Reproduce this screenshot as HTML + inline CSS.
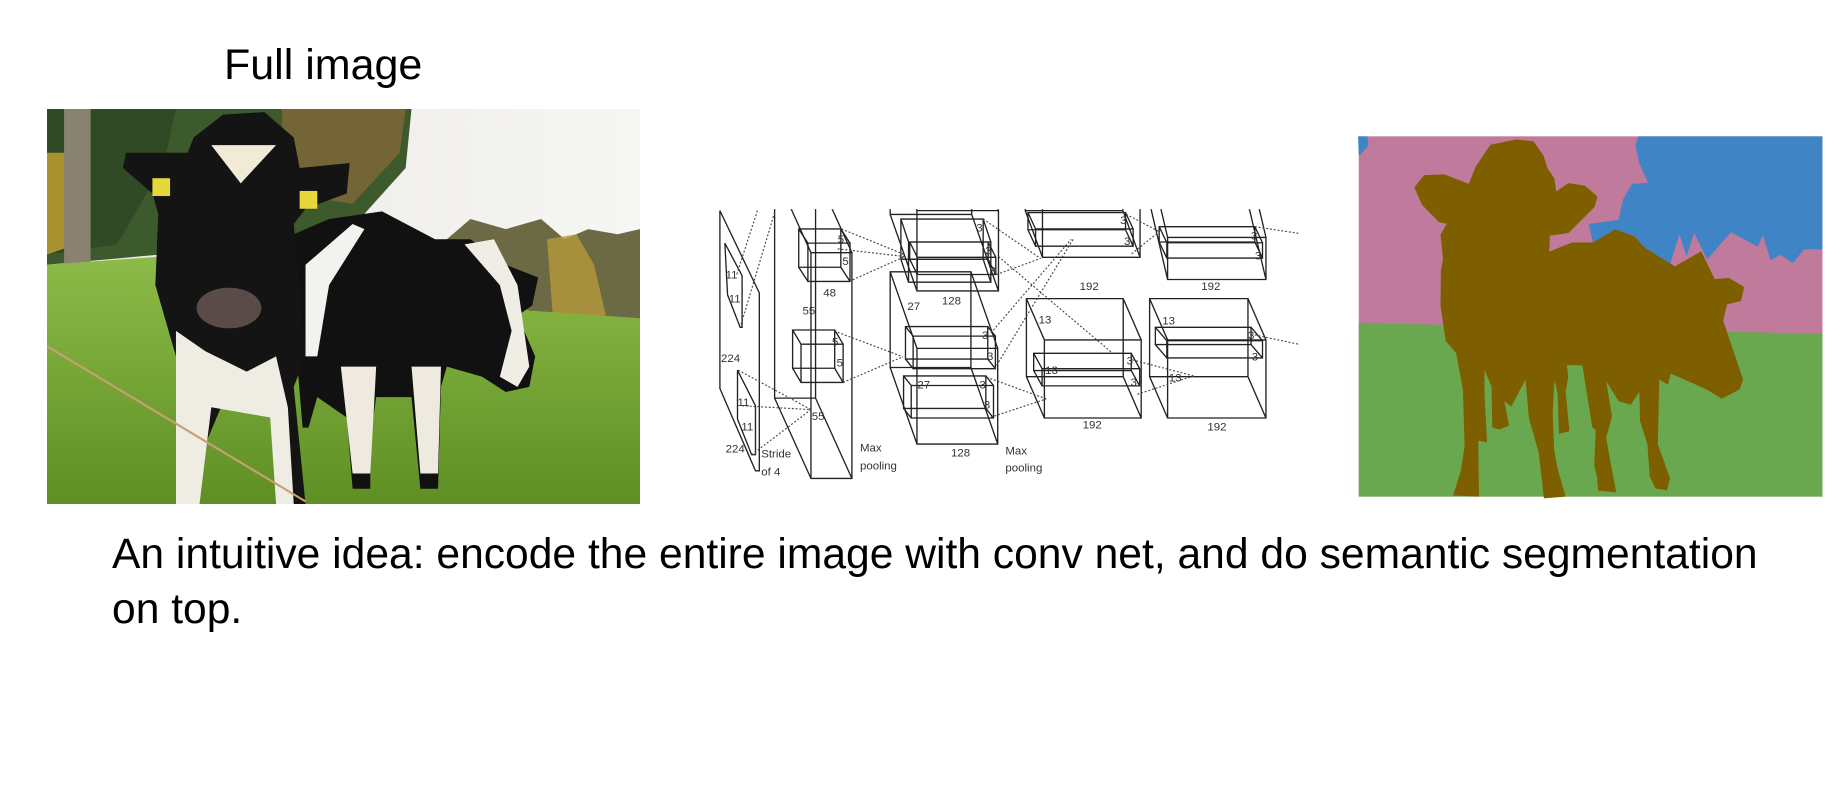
<!DOCTYPE html>
<html><head><meta charset="utf-8">
<style>
html,body{margin:0;padding:0;background:#fff;}
body{width:1848px;height:799px;position:relative;overflow:hidden;font-family:"Liberation Sans",Arial,sans-serif;}
.t{position:absolute;color:#000;white-space:nowrap;}
svg{position:absolute;}
</style></head>
<body>
<div class="t" style="left:224px;top:40px;font-size:43px;line-height:50px;">Full image</div>

<svg style="left:47px;top:109px" width="593" height="395" viewBox="81 214 1007 776" preserveAspectRatio="none">
  <defs>
    <linearGradient id="grass" x1="0" y1="0" x2="0" y2="1"><stop offset="0" stop-color="#8fbd4a"/><stop offset="1" stop-color="#5e8f24"/></linearGradient>
    <linearGradient id="sky" x1="0" y1="0" x2="1" y2="0"><stop offset="0" stop-color="#e8e6e0"/><stop offset="1" stop-color="#f6f6f4"/></linearGradient>
  </defs>
  <rect x="81" y="214" width="1007" height="776" fill="url(#sky)"/>
  <path d="M81 214 H700 L690 330 L620 420 L560 470 L81 520 Z" fill="#3c5a2c"/>
  <path d="M81 214 H300 L280 320 L200 480 L81 500 Z" fill="#2f4a24"/>
  <path d="M480 214 H690 L680 300 L600 400 L480 380 Z" fill="#8a6a3a" opacity="0.7"/>
  <path d="M81 300 L110 300 L130 480 L81 500 Z" fill="#c9a431" opacity="0.8"/>
  <rect x="110" y="214" width="45" height="320" fill="#8a8270"/>
  <path d="M760 470 L800 430 L860 450 L920 430 L960 470 L1000 450 L1050 460 L1088 450 L1088 630 L760 620 Z" fill="#6b6a45"/>
  <path d="M930 470 L980 460 L1010 520 L1030 620 L940 620 Z" fill="#b79a3a" opacity="0.8"/>
  <path d="M81 520 L560 480 L900 610 L1088 625 V990 H81 Z" fill="url(#grass)"/>
  <path d="M500 460 L560 430 L650 415 L740 470 L800 470 L860 520 L915 545 L905 600 L880 620 L910 700 L900 760 L860 770 L820 740 L760 720 L750 760 L745 960 L715 960 L700 780 L640 780 L630 860 L630 960 L600 960 L590 820 L540 780 L525 840 L515 840 L505 700 Z" fill="#111"/>
  <path d="M520 520 L600 440 L620 450 L560 560 L540 700 L520 700 Z" fill="#f2f2ee"/>
  <path d="M790 480 L840 470 L880 560 L900 720 L880 760 L850 740 L870 650 L850 560 Z" fill="#f0ede4"/>
  <path d="M700 720 L750 720 L745 930 L715 930 Z" fill="#eeeadf"/>
  <path d="M580 720 L640 720 L630 930 L600 930 Z" fill="#eeeadf"/>
  <path d="M330 270 L380 225 L450 220 L500 270 L510 330 L595 320 L590 380 L520 410 L500 440 L520 700 L500 760 L520 990 L480 990 L470 790 L380 790 L340 900 L335 990 L300 990 L300 700 L265 560 L270 420 L260 380 L210 330 L215 300 L320 300 Z" fill="#141414"/>
  <path d="M360 285 L470 285 L410 360 Z" fill="#f1ead6"/>
  <path d="M300 650 L350 690 L420 730 L470 700 L490 800 L500 990 L470 990 L460 820 L360 800 L340 990 L300 990 Z" fill="#efece4"/>
  <ellipse cx="390" cy="605" rx="55" ry="40" fill="#5a4a48"/>
  <rect x="260" y="350" width="30" height="35" fill="#e7d83a"/>
  <rect x="510" y="375" width="30" height="35" fill="#e7d83a"/>
  <line x1="81" y1="680" x2="520" y2="985" stroke="#c8a070" stroke-width="4"/>
</svg>

<svg style="left:700px;top:180px" width="600" height="300" viewBox="0 0 1568 784" font-family="Liberation Sans, DejaVu Sans, sans-serif" font-size="30" fill="#333">
  <defs><clipPath id="dc"><rect x="0" y="76" width="1568" height="708"/></clipPath></defs>
  <g clip-path="url(#dc)" fill="none" stroke="#222" stroke-width="3.5" id="prisms"></g>
  <g fill="none" stroke="#444" stroke-width="3" stroke-dasharray="5,5" id="dashes"></g>
  <g id="labels"></g>
</svg>

<svg style="left:1300px;top:100px" width="548" height="420" viewBox="0 0 1568 1202">
  <rect x="168" y="104" width="1327" height="1031" fill="#c07a9b"/>
  <polygon points="168,638 1495,670 1495,1135 168,1135" fill="#69a84f"/>
  <polygon fill="#3f85c5" points="968,104 1495,104 1495,427 1443,427 1410,467 1376,443 1346,458 1325,387 1310,420 1233,378 1165,457 1128,380 1106,447 1086,385 1065,450 1060,470 988,424 957,390 902,370 838,408 826,355 912,343 925,283 950,240 996,237 970,180 960,130"/>
  <polygon fill="#3f85c5" points="166,104 193,104 196,130 172,157 168,157"/>
  <polygon fill="#7e5f00" points="545,128 618,113 668,118 697,160 708,195 728,225 733,262 768,238 815,245 851,276 843,306 768,381 715,388 713,434 778,408 838,408 902,370 957,390 988,424 1073,476 1148,433 1187,513 1227,509 1271,535 1262,575 1222,585 1211,632 1268,800 1258,828 1207,855 1163,828 1061,783 1053,815 1028,800 1024,985 1059,1083 1050,1117 1017,1112 1001,1078 994,985 973,918 971,835 946,872 912,862 876,805 893,905 876,967 891,1050 905,1123 853,1118 850,1080 842,1045 846,945 836,935 828,885 808,760 763,758 768,790 760,835 771,948 741,955 737,840 728,800 723,895 727,1000 737,1055 760,1135 698,1140 683,1010 655,910 645,800 605,877 585,863 598,932 570,943 550,937 548,820 528,773 528,845 533,940 535,980 510,975 512,1135 438,1132 460,1062 471,990 466,830 447,725 417,690 402,590 403,490 409,455 402,385 420,354 398,350 349,300 327,250 355,215 413,213 483,240 503,190"/>
</svg>

<div class="t" style="left:112px;top:527px;font-size:42.6px;line-height:55px;">An intuitive idea: encode the entire image with conv net, and do semantic segmentation<br>on top.</div>

<script>
const NS='http://www.w3.org/2000/svg';
const prisms=[
 [195,-20,107,590,95,210],
 [258,128,110,100,24,37],
 [242,392,110,100,22,37],
 [497,-120,213,210,70,200],
 [497,240,211,250,70,200],
 [525,102,215,105,20,60],
 [548,162,205,45,20,40],
 [537,383,215,85,20,25],
 [532,512,215,85,20,25],
 [850,-60,255,140,45,122],
 [857,85,255,45,20,43],
 [853,310,253,204,47,108],
 [872,453,255,45,22,40],
 [1175,-50,257,110,47,200],
 [1200,122,250,40,20,42],
 [1175,310,257,204,47,108],
 [1190,385,250,45,30,35]
];
const slabs=[[52,80,155,295,155,760,145,760,52,545],[65,165,110,250,110,385,105,385,72,300],[98,497,145,590,145,718,135,718,98,625]];
const dashes=[[150,80,95,250],[195,85,105,385],[370,128,535,195],[390,265,535,200],[360,180,535,200],[360,398,530,462],[374,529,530,462],[100,497,290,600],[135,718,290,600],[110,590,290,600],[740,102,890,205],[775,247,890,205],[760,400,970,155],[770,493,975,155],[740,512,905,572],[760,620,905,572],[780,200,1075,450],[1105,85,1200,135],[1128,193,1200,135],[1130,470,1290,512],[1143,560,1290,512],[1450,122,1568,140],[1450,405,1568,430]];
const labels=[["5",360,165],["5",372,222],["48",322,305],["55",268,352],["5",345,433],["5",357,487],["224",55,476],["11",67,258],["11",75,320],["11",98,590],["11",108,655],["224",67,712],["55",292,627],["Stride",160,725],["of 4",160,772],["3",140,812],["48",328,815],["Max",418,710],["pooling",418,757],["3",722,135],["3",745,195],["3",757,247],["128",632,325],["27",542,340],["3",737,415],["3",750,470],["27",568,545],["3",730,545],["3",742,597],["128",656,722],["Max",798,717],["pooling",798,762],["3",1098,115],["3",1108,170],["192",992,287],["13",885,375],["13",902,507],["3",1115,482],["3",1125,538],["192",1000,650],["3",1440,155],["3",1450,208],["192",1310,287],["13",1208,377],["3",1432,415],["3",1442,472],["13",1225,526],["192",1326,655]];

const gp=document.getElementById('prisms');
function ln(g,x1,y1,x2,y2){const l=document.createElementNS(NS,'line');l.setAttribute('x1',x1);l.setAttribute('y1',y1);l.setAttribute('x2',x2);l.setAttribute('y2',y2);g.appendChild(l);return l;}
prisms.forEach(p=>{
  const [x,y,w,h,dx,dy]=p;
  const g=document.createElementNS(NS,'g');
  
  
  const d=`M${x} ${y}H${x+w}V${y+h}H${x}Z M${x+dx} ${y+dy}H${x+w+dx}V${y+h+dy}H${x+dx}Z M${x} ${y}L${x+dx} ${y+dy} M${x+w} ${y}L${x+w+dx} ${y+dy} M${x} ${y+h}L${x+dx} ${y+h+dy} M${x+w} ${y+h}L${x+w+dx} ${y+h+dy}`;
  const path=document.createElementNS(NS,'path');path.setAttribute('d',d);g.appendChild(path);gp.appendChild(g);
});
slabs.forEach(s=>{
  const pg=document.createElementNS(NS,'polygon');
  
  
  let pts=[];for(let i=0;i<s.length;i+=2)pts.push(s[i]+','+s[i+1]);
  pg.setAttribute('points',pts.join(' '));gp.appendChild(pg);
});
const gd=document.getElementById('dashes');
dashes.forEach(d=>{const l=ln(gd,d[0],d[1],d[2],d[3]);
  
  
});
const gl=document.getElementById('labels');
labels.forEach(t=>{const e=document.createElementNS(NS,'text');
  
  
  e.setAttribute('x',t[1]);e.setAttribute('y',t[2]);e.textContent=t[0];gl.appendChild(e);});
</script>
</body></html>
